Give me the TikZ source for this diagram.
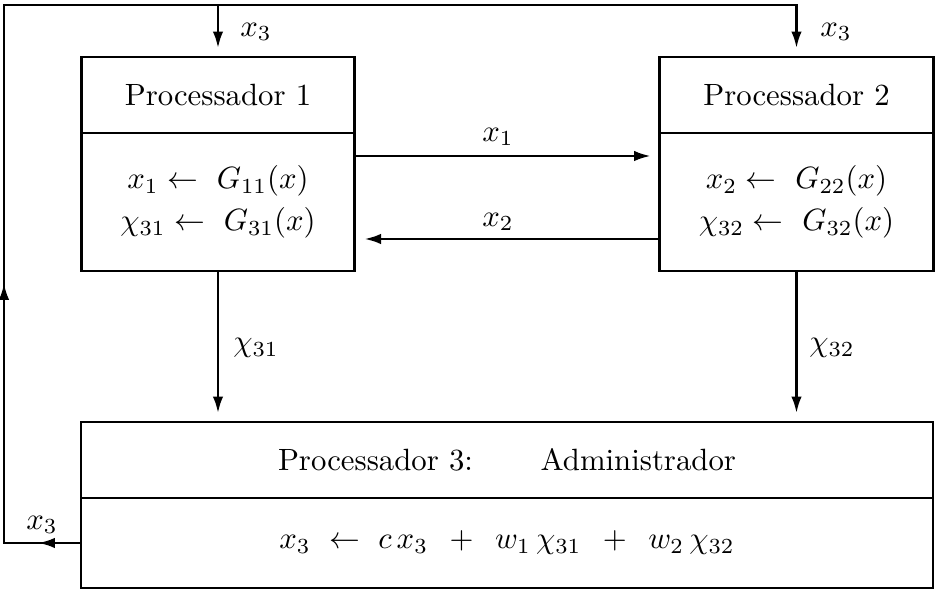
\documentclass[tikz,border=0pt]{standalone}
\usetikzlibrary{arrows.meta}
\begin{document}
\begin{tikzpicture}[x=0.325pt,y=-0.325pt,
  line width=0.95pt,
  box/.style={draw, line width=0.95pt, minimum width=89pt, inner sep=0pt, align=center},
  head/.style={box, minimum height=24.7pt, text height=6.83pt, text depth=0pt},
  body/.style={box, minimum height=44.85pt},
  arr/.style={-{Latex[length=5.5pt,width=3.4pt]}},
  lbl/.style={inner sep=0pt}]
\useasboundingbox (0,0) rectangle (935,593);

% boxes
\node[head] (p1h) at (218,95) {Processador 1};
\node[body] (p1b) at (218,202) {$x_1 \leftarrow\ G_{11}(x)$\\[1.65pt]$\chi_{31} \leftarrow\ G_{31}(x)$};
\node[head] (p2h) at (796.5,95) {Processador 2};
\node[body] (p2b) at (796.5,202) {$x_2 \leftarrow\ G_{22}(x)$\\[1.65pt]$\chi_{32} \leftarrow\ G_{32}(x)$};
\node[head, minimum width=276.9pt] (p3h) at (507,460) {Processador 3:\hspace{22pt}Administrador};
\node[box, minimum width=276.9pt, minimum height=29.25pt] (p3b) at (507,543)
  {$x_3\hspace{6pt}{\leftarrow}\hspace{6pt}c\,x_3\hspace{7pt}{+}\hspace{7pt}w_1\,\chi_{31}\hspace{7pt}{+}\hspace{7pt}w_2\,\chi_{32}$};

% helper coordinates
\coordinate (cBL) at (4,543);
\coordinate (cTL) at (4,5);
\coordinate (aL) at (38,543);
\coordinate (aU) at (4,283);
\coordinate (y1) at (0,156);
\coordinate (y2) at (0,239);

% feedback loop
\draw[arr, shorten >=2.3pt] (p3b.west) -- (cBL) -- (cTL) -- (cTL -| p2h.north) -- (p2h.north);
\draw[arr] (p3b.west) -- (aL);
\draw[arr] (cBL) -- (aU);
\draw[arr, shorten >=2.3pt] (cTL -| p1h.north) -- (p1h.north);

% exchanges
\draw[arr, shorten >=2.3pt] (y1 -| p1b.east) -- (y1 -| p2b.west);
\draw[arr, shorten >=2.5pt] (y2 -| p2b.west) -- (y2 -| p1b.east);
\draw[arr, shorten >=2.3pt] (p1b.south) -- (p1b.south |- p3h.north);
\draw[arr, shorten >=2.3pt] (p2b.south) -- (p2b.south |- p3h.north);

% labels
\node[lbl] (l3a) at (256,32) {$x_3$};
\node[lbl] (l3b) at (836,32) {$x_3$};
\node[lbl] (l1) at (498,137) {$x_1$};
\node[lbl] (l2) at (498,222) {$x_2$};
\node[lbl] (l31) at (256,348) {$\chi_{31}$};
\node[lbl] (l32) at (832,348) {$\chi_{32}$};
\node[lbl] (l3c) at (42,525) {$x_3$};
\end{tikzpicture}
\end{document}
